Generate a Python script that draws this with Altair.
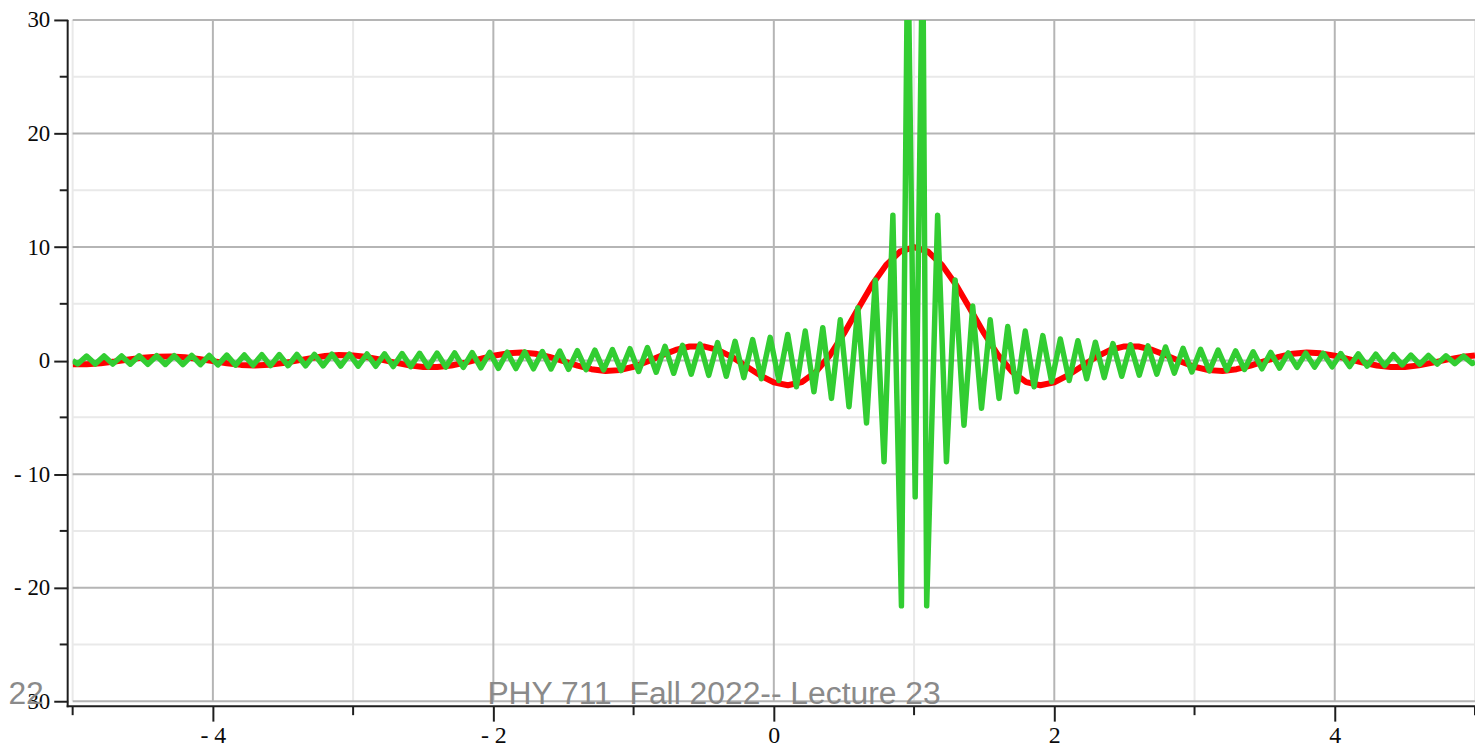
import altair as alt
import pandas as pd

# ---- data ----
red_x = [-5.0, -4.9, -4.8, -4.7, -4.6, -4.5, -4.4, -4.3, -4.2, -4.1,
         -4.0, -3.9, -3.8, -3.7, -3.6, -3.5, -3.4, -3.3, -3.2, -3.1,
         -3.0, -2.9, -2.8, -2.7, -2.6, -2.5, -2.4, -2.3, -2.2, -2.1,
         -2.0, -1.9, -1.8, -1.7, -1.6, -1.5, -1.4, -1.3, -1.2, -1.1,
         -1.0, -0.9, -0.8, -0.7, -0.6, -0.5, -0.4, -0.3, -0.2, -0.1,
         0.0, 0.1, 0.2, 0.3, 0.4, 0.5, 0.6, 0.7, 0.8, 0.9,
         1.0, 1.1, 1.2, 1.3, 1.4, 1.5, 1.6, 1.7, 1.8, 1.9,
         2.0, 2.1, 2.2, 2.3, 2.4, 2.5, 2.6, 2.7, 2.8, 2.9,
         3.0, 3.1, 3.2, 3.3, 3.4, 3.5, 3.6, 3.7, 3.8, 3.9,
         4.0, 4.1, 4.2, 4.3, 4.4, 4.5, 4.6, 4.7, 4.8, 4.9, 5.0]
red_y = [-0.33, -0.32, -0.23, -0.08, 0.10, 0.26, 0.35, 0.37, 0.29, 0.14,
         -0.05, -0.24, -0.38, -0.43, -0.37, -0.22, 0.00, 0.22, 0.40, 0.49,
         0.46, 0.31, 0.08, -0.18, -0.42, -0.56, -0.57, -0.43, -0.18, 0.13,
         0.43, 0.64, 0.71, 0.60, 0.32, -0.05, -0.45, -0.76, -0.91, -0.84,
         -0.54, -0.08, 0.46, 0.94, 1.24, 1.25, 0.94, 0.33, -0.47, -1.28,
         -1.92, -2.17, -1.89, -1.00, 0.47, 2.39, 4.55, 6.65, 8.41, 9.59,
         10.0, 9.59, 8.41, 6.65, 4.55, 2.39, 0.47, -1.00, -1.89, -2.17,
         -1.92, -1.28, -0.47, 0.33, 0.94, 1.25, 1.24, 0.94, 0.46, -0.08,
         -0.54, -0.84, -0.91, -0.76, -0.45, -0.05, 0.32, 0.60, 0.71, 0.64,
         0.43, 0.13, -0.18, -0.43, -0.57, -0.56, -0.42, -0.18, 0.08, 0.31, 0.46]

green_x = [-5.000, -4.964, -4.901, -4.839, -4.776, -4.714, -4.651, -4.589, -4.526, -4.464,
           -4.401, -4.339, -4.276, -4.214, -4.151, -4.089, -4.026, -3.964, -3.901, -3.839,
           -3.776, -3.714, -3.651, -3.589, -3.526, -3.464, -3.401, -3.339, -3.276, -3.214,
           -3.151, -3.089, -3.026, -2.964, -2.901, -2.839, -2.776, -2.714, -2.651, -2.589,
           -2.526, -2.464, -2.401, -2.339, -2.276, -2.214, -2.151, -2.089, -2.026, -1.964,
           -1.901, -1.839, -1.776, -1.714, -1.651, -1.589, -1.526, -1.464, -1.401, -1.339,
           -1.276, -1.214, -1.151, -1.089, -1.026, -0.964, -0.901, -0.839, -0.776, -0.714,
           -0.651, -0.589, -0.526, -0.464, -0.401, -0.339, -0.276, -0.214, -0.151, -0.089,
           -0.026, 0.036, 0.099, 0.161, 0.224, 0.286, 0.349, 0.411, 0.474, 0.536,
           0.599, 0.661, 0.724, 0.786, 0.849, 0.910, 0.955, 1.008, 1.062, 1.090,
           1.168, 1.231, 1.293, 1.356, 1.418, 1.481, 1.543, 1.606, 1.668, 1.731,
           1.793, 1.856, 1.918, 1.981, 2.043, 2.106, 2.168, 2.231, 2.293, 2.356,
           2.418, 2.481, 2.543, 2.606, 2.668, 2.731, 2.793, 2.856, 2.918, 2.981,
           3.043, 3.106, 3.168, 3.231, 3.293, 3.356, 3.418, 3.481, 3.543, 3.606,
           3.668, 3.731, 3.793, 3.856, 3.918, 3.981, 4.043, 4.106, 4.168, 4.231,
           4.293, 4.356, 4.418, 4.481, 4.543, 4.606, 4.668, 4.731, 4.793, 4.856,
           4.918, 4.981, 5.000]
green_y = [0.00, -0.30, 0.40, -0.31, 0.41, -0.31, 0.41, -0.32, 0.42, -0.33,
           0.43, -0.34, 0.44, -0.35, 0.45, -0.36, 0.46, -0.38, 0.48, -0.40,
           0.50, -0.42, 0.52, -0.44, 0.53, -0.45, 0.54, -0.46, 0.55, -0.47,
           0.56, -0.48, 0.57, -0.49, 0.58, -0.50, 0.60, -0.52, 0.62, -0.53,
           0.64, -0.55, 0.66, -0.57, 0.68, -0.60, 0.70, -0.64, 0.72, -0.68,
           0.74, -0.70, 0.77, -0.72, 0.80, -0.74, 0.84, -0.77, 0.88, -0.80,
           0.92, -0.83, 0.97, -0.88, 1.05, -0.96, 1.15, -1.03, 1.25, -1.12,
           1.35, -1.20, 1.46, -1.30, 1.58, -1.38, 1.70, -1.50, 1.85, -1.60,
           2.05, -1.75, 2.30, -2.30, 2.60, -2.75, 2.90, -3.33, 3.60, -4.06,
           4.65, -5.50, 7.10, -8.90, 12.80, -21.60, 38.0, -12.0, 38.0, -21.60,
           12.80, -8.90, 7.10, -5.70, 4.80, -4.20, 3.60, -3.33, 3.00, -2.75,
           2.60, -2.30, 2.20, -1.87, 1.90, -1.75, 1.75, -1.60, 1.62, -1.50,
           1.50, -1.38, 1.40, -1.28, 1.30, -1.20, 1.20, -1.10, 1.08, -1.00,
           1.00, -0.92, 0.92, -0.85, 0.85, -0.78, 0.78, -0.72, 0.72, -0.66,
           0.68, -0.60, 0.66, -0.57, 0.64, -0.55, 0.62, -0.52, 0.60, -0.48,
           0.56, -0.44, 0.52, -0.38, 0.48, -0.33, 0.45, -0.30, 0.42, -0.27,
           0.40, -0.26, -0.10]

major_x = [-4, -2, 0, 2, 4]
minor_x = [-5, -3, -1, 1, 3, 5]
major_y = [-30, -20, -10, 0, 10, 20, 30]
minor_y = [-25, -15, -5, 5, 15, 25]

footer_text = "PHY 711 \u00a0Fall 2022-- Lecture 23"
date_text = "22"

# ---- layout / style ----
W, H = 1410, 685
OFF = 5
AXIS_COLOR = "#1e1e1e"
LABEL_FONT = "Liberation Serif"

xs = alt.Scale(domain=[-5, 5], nice=False, zero=False)
ys = alt.Scale(domain=[-30, 30], nice=False, zero=False)

red_df = pd.DataFrame({"x": red_x, "y": red_y})
green_df = pd.DataFrame({"x": green_x, "y": green_y})
one = pd.DataFrame({"a": [0]})

neg_label = "datum.value < 0 ? '- ' + format(-datum.value, 'd') : format(datum.value, 'd')"

x_axis = alt.Axis(values=major_x, grid=False, domain=False, offset=OFF, tickSize=15,
                  tickWidth=2, tickColor=AXIS_COLOR, labelFont=LABEL_FONT, labelFontSize=24,
                  labelColor="#0a0a0a", labelPadding=2, labelExpr=neg_label, title=None)
y_axis = alt.Axis(values=major_y, grid=False, domain=False, offset=OFF, tickSize=14,
                  tickWidth=2, tickColor=AXIS_COLOR, labelFont=LABEL_FONT, labelFontSize=23,
                  labelColor="#0a0a0a", labelPadding=4, labelExpr=neg_label, title=None)


def X(field):
    return alt.X(field, scale=xs, axis=x_axis)


def Y(field):
    return alt.Y(field, scale=ys, axis=y_axis)


# grid lines (minor first, then major)
grid_minor_x = alt.Chart(pd.DataFrame({"v": minor_x})).mark_rule(
    color="#e9e9e9", strokeWidth=2).encode(x=X("v:Q"))
grid_minor_y = alt.Chart(pd.DataFrame({"v": minor_y})).mark_rule(
    color="#e9e9e9", strokeWidth=2).encode(y=Y("v:Q"))
grid_major_x = alt.Chart(pd.DataFrame({"v": major_x})).mark_rule(
    color="#b5b5b5", strokeWidth=2).encode(x=X("v:Q"))
grid_major_y = alt.Chart(pd.DataFrame({"v": major_y})).mark_rule(
    color="#b5b5b5", strokeWidth=2).encode(y=Y("v:Q"))

# minor ticks
minor_tick_x = alt.Chart(pd.DataFrame({"v": minor_x})).mark_rule(
    color=AXIS_COLOR, strokeWidth=2).encode(
    x=X("v:Q"), y=alt.value(H + OFF), y2=alt.value(H + OFF + 9))
minor_tick_y = alt.Chart(pd.DataFrame({"v": minor_y})).mark_rule(
    color=AXIS_COLOR, strokeWidth=2).encode(
    y=Y("v:Q"), x=alt.value(-OFF), x2=alt.value(-OFF - 8))

# axis lines meeting in the corner
x_line = alt.Chart(one).mark_rule(color=AXIS_COLOR, strokeWidth=2).encode(
    x=alt.value(-OFF - 1), x2=alt.value(W), y=alt.value(H + OFF))
y_line = alt.Chart(one).mark_rule(color=AXIS_COLOR, strokeWidth=2).encode(
    x=alt.value(-OFF), y=alt.value(0), y2=alt.value(H + OFF + 1))

red = alt.Chart(red_df).mark_line(color="#ff0000", strokeWidth=6, clip=True,
                                  strokeJoin="round").encode(x=X("x:Q"), y=Y("y:Q"))
green = alt.Chart(green_df).mark_line(color="#32cd32", strokeWidth=5.5, clip=True,
                                      strokeJoin="round").encode(x=X("x:Q"), y=Y("y:Q"))

footer = alt.Chart(one).mark_text(
    text=footer_text, font="Liberation Sans", fontSize=32, color="#8a8a8a",
    align="left", baseline="alphabetic").encode(x=alt.value(417), y=alt.value(H + 3))
date = alt.Chart(one).mark_text(
    text=date_text, font="Liberation Sans", fontSize=32, color="#8a8a8a",
    align="right", baseline="alphabetic").encode(x=alt.value(-29), y=alt.value(H + 3))

chart = alt.layer(
    grid_minor_x, grid_minor_y, grid_major_x, grid_major_y,
    red, green,
    minor_tick_x, minor_tick_y, x_line, y_line,
    footer, date,
).properties(
    width=W, height=H,
    padding={"left": 65, "top": 10, "right": 0, "bottom": 45},
    autosize=alt.AutoSizeParams(type="none"),
).configure_view(stroke=None)

chart.save("out.html", embed_options={"renderer": "svg", "actions": False})
